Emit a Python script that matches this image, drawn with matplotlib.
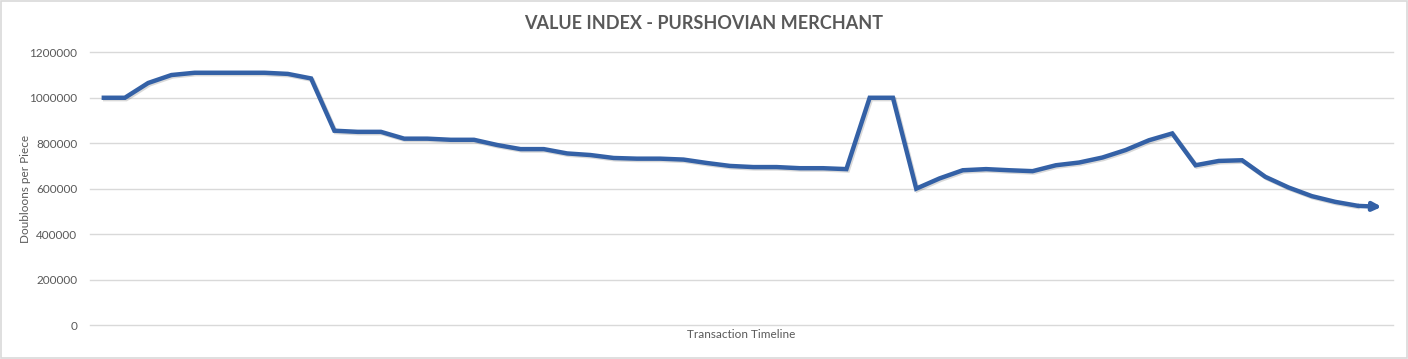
import matplotlib.pyplot as plt
import matplotlib.patheffects as pe
from matplotlib.patches import Rectangle

# index values, one per transaction
values = [
    1000000, 1000000, 1065000, 1100000, 1110000, 1110000, 1110000, 1110000,
    1105000, 1085000, 855000, 850000, 850000, 820000, 820000, 815000,
    815000, 792000, 774000, 774000, 755000, 748000, 735000, 732000,
    732000, 728000, 713000, 700000, 695000, 695000, 690000, 690000,
    686000, 1000000, 1000000, 600000, 645000, 681000, 686000, 681000,
    677000, 703000, 715000, 737000, 770000, 813000, 843000, 703000,
    722000, 725000, 652000, 605000, 567000, 542000, 524000, 520000,
]
yticks = [0, 200000, 400000, 600000, 800000, 1000000, 1200000]

title = "VALUE INDEX - PURSHOVIAN MERCHANT"
xlabel = "Transaction Timeline"
ylabel = "Doubloons per Piece"

line_color = "#3461A6"
text_color = "#595959"
grid_color = "#D9D9D9"

plt.rcParams['font.family'] = ['Lato', 'DejaVu Sans']

fig = plt.figure(figsize=(14.08, 3.59), dpi=100)
ax = fig.add_axes([0.0639, 0.0947, 0.9257, 0.7596])

x = list(range(len(values)))
shadow = [pe.SimpleLineShadow(offset=(1, -1), alpha=0.15, shadow_color='black'), pe.Normal()]
ax.plot(x[:-1], values[:-1], color=line_color, lw=3.2, solid_joinstyle='miter',
        solid_capstyle='butt', path_effects=shadow, zorder=3)
# last segment ends with an arrow head
ax.annotate('', xy=(x[-1], values[-1]), xytext=(x[-2], values[-2]),
            arrowprops=dict(arrowstyle='-|>', color=line_color, lw=3.2,
                            mutation_scale=12, shrinkA=0, shrinkB=0),
            zorder=3)

ax.set_xlim(-0.5, len(values) - 0.5)
ax.set_ylim(0, 1200000)
ax.set_yticks(yticks)
ax.set_yticklabels([str(v) for v in yticks])
ax.set_xticks([])
ax.tick_params(axis='y', length=0, pad=9, labelsize=8.5, labelcolor=text_color)
ax.grid(axis='y', color=grid_color, lw=1)
for gl in ax.get_ygridlines():
    gl.set_clip_on(False)
ax.set_axisbelow(True)
for s in ax.spines.values():
    s.set_visible(False)

ax.set_xlabel(xlabel, fontsize=8.5, color=text_color, labelpad=3)
ax.set_ylabel(ylabel, fontsize=8.5, color=text_color)
ax.yaxis.set_label_coords(-0.045, 0.5)
fig.text(0.5, 0.935, title, ha='center', va='center', fontsize=13,
         fontweight='bold', color=text_color)

fig.patches.append(Rectangle((0.0005, 0.002), 0.999, 0.996, transform=fig.transFigure,
                             fill=False, edgecolor=grid_color, lw=1.2))

fig.savefig('out.png', dpi=100)
